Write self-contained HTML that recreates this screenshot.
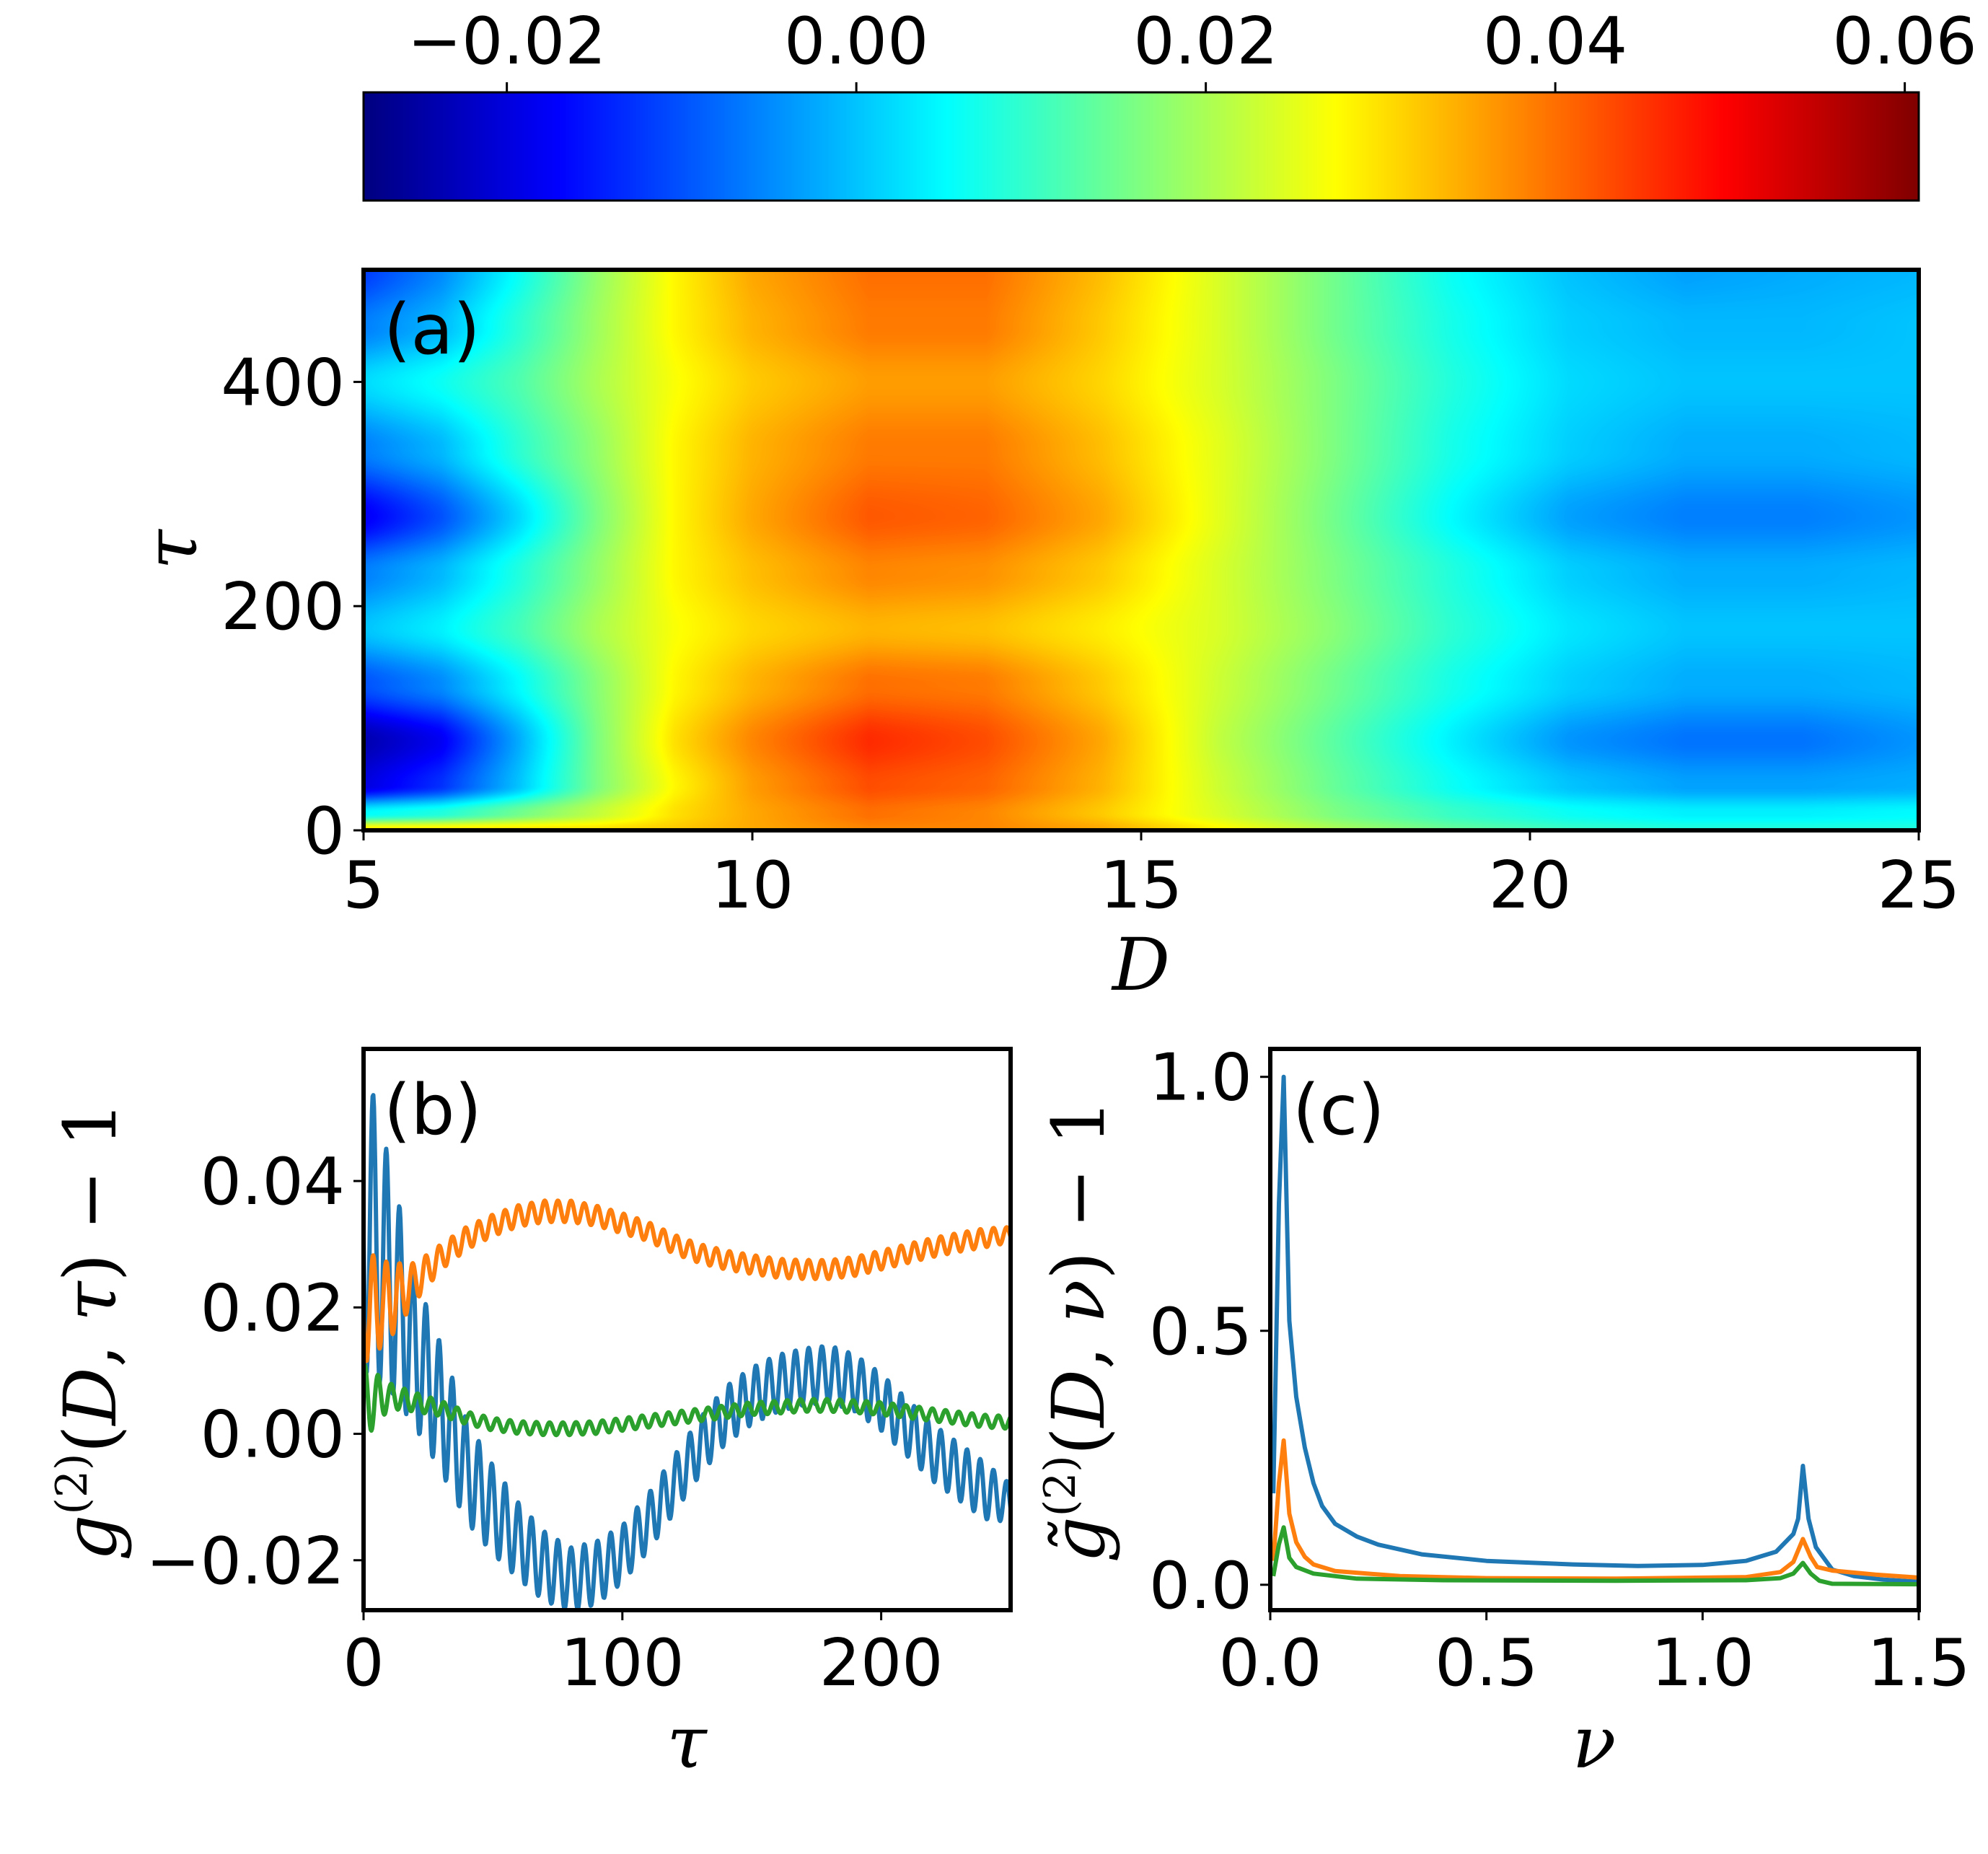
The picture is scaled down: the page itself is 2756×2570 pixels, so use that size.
<!DOCTYPE html>
<html><head><meta charset="utf-8">
<style>
html,body{margin:0;padding:0;background:#fff;}
#wrap{position:relative;width:2756px;height:2570px;overflow:hidden;}
canvas,svg{position:absolute;left:0;top:0;}
text{font-family:"DejaVu Sans","Liberation Sans",sans-serif;}
.tick{font-size:90px;fill:#000;}
.plabel{font-size:96px;fill:#000;}
.math{font-family:"DejaVu Serif","Liberation Serif",serif;font-style:italic;fill:#000;}
</style></head>
<body>
<div id="wrap">
<canvas id="hm" width="2756" height="2570"></canvas>
<svg id="svg" width="2756" height="2570" xmlns="http://www.w3.org/2000/svg">
<defs>
<clipPath id="clipB"><rect x="504" y="1454" width="897" height="778"/></clipPath>
<clipPath id="clipC"><rect x="1761" y="1454" width="899" height="778"/></clipPath>
</defs>
<g id="layer"></g>
</svg>
</div>
<script>
// ---------- data: heatmap (a) ----------
const hmD = [5,6,7,8,9,10,11.5,13,14.5,16,17.5,19,20.5,22,23.5,25];
const hmTau = [0,15,40,80,130,180,230,280,340,400,450,500];
const hmRow0   = [0.03,0.03,0.03,0.03,0.032,0.035,0.038,0.038,0.035,0.028,0.02,0.014,0.01,0.008,0.008,0.008];
const hmRow15  = [0.005,0.008,0.015,0.022,0.03,0.035,0.04,0.038,0.032,0.024,0.016,0.01,0.006,0.004,0.004,0.005];
const hmRow40  = [-0.02,-0.013,0.0,0.016,0.028,0.036,0.043,0.041,0.034,0.023,0.014,0.006,0.0,-0.003,-0.003,-0.002];
const hmRow80  = [-0.024,-0.018,-0.002,0.016,0.03,0.038,0.046,0.043,0.035,0.022,0.013,0.004,-0.004,-0.007,-0.007,-0.004];
const hmRow130 = [-0.01,-0.005,0.005,0.017,0.028,0.034,0.04,0.039,0.032,0.023,0.015,0.007,0.001,-0.002,-0.002,-0.001];
const hmRow180 = [0.0,0.004,0.011,0.02,0.027,0.031,0.034,0.033,0.029,0.024,0.017,0.009,0.003,0.0,0.0,0.0];
const hmRow230 = [-0.006,-0.001,0.008,0.018,0.028,0.033,0.038,0.037,0.032,0.024,0.016,0.008,0.001,-0.002,-0.002,-0.001];
const hmRow280 = [-0.018,-0.01,0.002,0.016,0.028,0.035,0.042,0.041,0.035,0.025,0.015,0.005,-0.003,-0.006,-0.006,-0.004];
const hmRow340 = [-0.006,-0.001,0.009,0.018,0.028,0.034,0.039,0.039,0.033,0.025,0.016,0.007,0.001,-0.002,-0.002,-0.001];
const hmRow400 = [0.002,0.006,0.012,0.02,0.027,0.032,0.036,0.036,0.031,0.024,0.016,0.008,0.002,0.0,0.0,0.0];
const hmRow450 = [-0.006,-0.001,0.009,0.019,0.028,0.034,0.039,0.039,0.032,0.024,0.015,0.007,0.001,-0.001,-0.001,0.0];
const hmRow500 = [-0.012,-0.005,0.006,0.018,0.028,0.035,0.04,0.04,0.033,0.024,0.015,0.006,0.0,-0.003,-0.002,-0.001];
const hmRows = [hmRow0,hmRow15,hmRow40,hmRow80,hmRow130,hmRow180,hmRow230,hmRow280,hmRow340,hmRow400,hmRow450,hmRow500];
const cbTicks = [-0.02,0.0,0.02,0.04,0.06];
const cbLabels = ["\u22120.02","0.00","0.02","0.04","0.06"];
const aXTicks = [5,10,15,20,25];
const aYTicks = [0,200,400];

// ---------- data: panel (b) envelopes ----------
const bTau = [0,10,20,30,40,50,60,70,80,90,100,110,120,130,140,150,160,170,180,190,200,210,220,230,240,250];
const blueMean = [0.035,0.025,0.013,0.004,-0.006,-0.012,-0.017,-0.021,-0.023,-0.022,-0.019,-0.014,-0.008,-0.002,0.003,0.006,0.008,0.009,0.0095,0.008,0.005,0.001,-0.003,-0.006,-0.009,-0.011];
const blueAmp  = [0.025,0.018,0.012,0.010,0.008,0.007,0.006,0.0055,0.005,0.005,0.0045,0.0045,0.0045,0.0045,0.0045,0.0045,0.0045,0.0045,0.0045,0.0045,0.0045,0.0045,0.0045,0.0045,0.0045,0.003];
const orangeMean = [0.020,0.021,0.024,0.028,0.031,0.033,0.0345,0.0352,0.0352,0.0345,0.0333,0.032,0.030,0.0285,0.0275,0.0268,0.0262,0.026,0.026,0.0265,0.0275,0.0285,0.0295,0.0303,0.031,0.0315];
const orangeAmp  = [0.009,0.006,0.003,0.002,0.0018,0.0017,0.0017,0.0017,0.0017,0.0016,0.0016,0.0015,0.0015,0.0015,0.0015,0.0015,0.0015,0.0015,0.0015,0.0015,0.0015,0.0015,0.0015,0.0015,0.0015,0.0012];
const greenMean = [0.005,0.006,0.005,0.004,0.0025,0.0015,0.001,0.0008,0.0008,0.001,0.0015,0.002,0.0025,0.003,0.0035,0.004,0.0042,0.0045,0.0045,0.0043,0.004,0.0035,0.003,0.0025,0.002,0.0018];
const greenAmp  = [0.006,0.002,0.0015,0.0012,0.001,0.001,0.001,0.001,0.001,0.001,0.001,0.001,0.001,0.001,0.001,0.001,0.001,0.001,0.001,0.001,0.001,0.001,0.001,0.001,0.001,0.001];
const oscPeriod = 5.1;
const bXTicks = [0,100,200];
const bYTicks = [-0.02,0.0,0.02,0.04];
const bYLabels = ["\u22120.02","0.00","0.02","0.04"];

// ---------- data: panel (c) ----------
const cNuBlue = [0.007,0.02,0.031,0.044,0.06,0.08,0.1,0.12,0.15,0.2,0.25,0.35,0.5,0.7,0.85,1.0,1.1,1.17,1.21,1.221,1.232,1.245,1.262,1.3,1.35,1.42,1.5];
const cBlue   = [0.18,0.75,1.0,0.52,0.37,0.27,0.2,0.155,0.12,0.095,0.079,0.06,0.047,0.04,0.037,0.039,0.047,0.065,0.1,0.13,0.234,0.13,0.074,0.03,0.017,0.01,0.006];
const cNuOrange = [0.007,0.02,0.031,0.044,0.06,0.08,0.1,0.15,0.3,0.5,0.8,1.1,1.18,1.21,1.232,1.25,1.265,1.3,1.4,1.5];
const cOrange   = [0.047,0.2,0.284,0.14,0.084,0.055,0.04,0.027,0.017,0.013,0.012,0.015,0.025,0.045,0.09,0.055,0.035,0.028,0.02,0.014];
const cNuGreen = [0.007,0.02,0.031,0.044,0.06,0.1,0.2,0.4,0.8,1.1,1.18,1.21,1.232,1.25,1.27,1.3,1.5];
const cGreen   = [0.017,0.08,0.113,0.053,0.035,0.022,0.012,0.009,0.008,0.009,0.013,0.022,0.043,0.022,0.008,0.002,0.001];
const cXTicks = [0.0,0.5,1.0,1.5];
const cXLabels = ["0.0","0.5","1.0","1.5"];
const cYTicks = [0.0,0.5,1.0];
const cYLabels = ["0.0","0.5","1.0"];

// ---------- layout ----------
const A = {x0:504,x1:2660,y0:374,y1:1151,dmin:5,dmax:25,tmin:0,tmax:500};
const CB = {x0:504,x1:2660,y0:128,y1:278,vmin:-0.0282,vmax:0.0608};
const B = {x0:504,x1:1401,y0:1454,y1:2232,xmin:0,xmax:250,ymin:-0.0279,ymax:0.0609};
const C = {x0:1761,x1:2660,y0:1454,y1:2232,xmin:0,xmax:1.5,ymin:-0.05,ymax:1.055};
const ax = (P,v)=>P.x0+(v-P.xmin)/(P.xmax-P.xmin)*(P.x1-P.x0);
const ay = (P,v)=>P.y1-(v-P.ymin)/(P.ymax-P.ymin)*(P.y1-P.y0);
const aD = d=>A.x0+(d-A.dmin)/(A.dmax-A.dmin)*(A.x1-A.x0);
const aT = t=>A.y1-(t-A.tmin)/(A.tmax-A.tmin)*(A.y1-A.y0);
const cbX = v=>CB.x0+(v-CB.vmin)/(CB.vmax-CB.vmin)*(CB.x1-CB.x0);

function jet(t){
  t=Math.max(0,Math.min(1,t));
  const cl=x=>Math.max(0,Math.min(1,x));
  const r=cl(Math.min(4*t-1.5,-4*t+4.5));
  const g=cl(Math.min(4*t-0.5,-4*t+3.5));
  const b=cl(Math.min(4*t+0.5,-4*t+2.5));
  return [Math.round(r*255),Math.round(g*255),Math.round(b*255)];
}
function findIdx(arr,v){let i=0;while(i<arr.length-2&&v>arr[i+1])i++;return i;}
function interp(xs,ys,v){const i=findIdx(xs,v);const f=Math.max(0,Math.min(1,(v-xs[i])/(xs[i+1]-xs[i])));return ys[i]+(ys[i+1]-ys[i])*f;}

// ---------- draw heatmap & colorbar on canvas ----------
const cv=document.getElementById('hm');const ctx=cv.getContext('2d');
(function(){
  const w=A.x1-A.x0,h=A.y1-A.y0;const img=ctx.createImageData(w,h);
  const sm=f=>f*f*(3-2*f);
  for(let py=0;py<h;py++){
    const t=A.tmax-(py+0.5)/h*(A.tmax-A.tmin);
    const ri=findIdx(hmTau,t);const rf=sm(Math.max(0,Math.min(1,(t-hmTau[ri])/(hmTau[ri+1]-hmTau[ri]))));
    const r0=hmRows[ri],r1=hmRows[ri+1];
    for(let px=0;px<w;px++){
      const d=A.dmin+(px+0.5)/w*(A.dmax-A.dmin);
      const ci=findIdx(hmD,d);const cf=Math.max(0,Math.min(1,(d-hmD[ci])/(hmD[ci+1]-hmD[ci])));
      const a=r0[ci]+(r0[ci+1]-r0[ci])*cf,b=r1[ci]+(r1[ci+1]-r1[ci])*cf;
      const v=a+(b-a)*rf;
      const c=jet((v-CB.vmin)/(CB.vmax-CB.vmin));
      const k=(py*w+px)*4;img.data[k]=c[0];img.data[k+1]=c[1];img.data[k+2]=c[2];img.data[k+3]=255;
    }
  }
  ctx.putImageData(img,A.x0,A.y0);
  for(let px=CB.x0;px<CB.x1;px++){
    const c=jet((px-CB.x0+0.5)/(CB.x1-CB.x0));
    ctx.fillStyle=`rgb(${c[0]},${c[1]},${c[2]})`;ctx.fillRect(px,CB.y0,1,CB.y1-CB.y0);
  }
})();

// ---------- SVG helpers ----------
const NS='http://www.w3.org/2000/svg';const layer=document.getElementById('layer');
function mk(tag,attrs,parent){const e=document.createElementNS(NS,tag);for(const k in attrs)e.setAttribute(k,attrs[k]);(parent||layer).appendChild(e);return e;}
function txt(s,attrs,parent){const e=mk('text',attrs,parent);e.textContent=s;return e;}

// colorbar frame & ticks
let e=mk('rect',{x:CB.x0,y:CB.y0,width:CB.x1-CB.x0,height:CB.y1-CB.y0,fill:'none',stroke:'#000','stroke-width':3});


cbTicks.forEach((v,i)=>{
  const x=cbX(v);
  let t=mk('line',{x1:x,x2:x,y1:CB.y0,y2:CB.y0-14,stroke:'#000','stroke-width':3});
  
  
  let l=txt(cbLabels[i],{x:x,y:88,'text-anchor':'middle',class:'tick'});
  
  
});

// panel a frame & ticks
e=mk('rect',{x:A.x0,y:A.y0,width:A.x1-A.x0,height:A.y1-A.y0,fill:'none',stroke:'#000','stroke-width':6});


aXTicks.forEach(v=>{const x=aD(v);
  let t=mk('line',{x1:x,x2:x,y1:A.y1,y2:A.y1+14,stroke:'#000','stroke-width':3});
  
  
  let l=txt(String(v),{x:x,y:1258,'text-anchor':'middle',class:'tick'});
  
  });
aYTicks.forEach(v=>{const y=aT(v);
  let t=mk('line',{x1:A.x0,x2:A.x0-14,y1:y,y2:y,stroke:'#000','stroke-width':3});
  
  
  let l=txt(String(v),{x:478,y:y+32,'text-anchor':'end',class:'tick'});
  
  });
e=txt('(a)',{x:532,y:490,class:'plabel'});


e=txt('D',{x:1582,y:1372,'text-anchor':'middle',class:'math','font-size':100});


e=txt('τ',{x:0,y:0,'text-anchor':'middle',class:'math','font-size':100,transform:'translate(272,762) rotate(-90)'});



// panel b
const gB=mk('g',{'clip-path':'url(#clipB)'});
function bSeries(mean,amp,phase,color,name){
  let d='';
  for(let t=0;t<=250;t+=0.25){
    const v=interp(bTau,mean,t)+interp(bTau,amp,t)*Math.cos(2*Math.PI*(t-phase)/oscPeriod);
    d+=(t===0?'M':'L')+ax(B,t).toFixed(1)+','+ay(B,v).toFixed(1);
  }
  const p=mk('path',{d:d,fill:'none',stroke:color,'stroke-width':6,'stroke-linejoin':'round'},gB);
  
  
}
bSeries(blueMean,blueAmp,3.7,'#1f77b4','line-blue-b');
bSeries(orangeMean,orangeAmp,3.7,'#ff7f0e','line-orange-b');
bSeries(greenMean,greenAmp,5.6,'#2ca02c','line-green-b');
e=mk('rect',{x:B.x0,y:B.y0,width:B.x1-B.x0,height:B.y1-B.y0,fill:'none',stroke:'#000','stroke-width':6});


bXTicks.forEach(v=>{const x=ax(B,v);
  let t=mk('line',{x1:x,x2:x,y1:B.y1,y2:B.y1+14,stroke:'#000','stroke-width':3});
  
  
  let l=txt(String(v),{x:x,y:2336,'text-anchor':'middle',class:'tick'});
  
  });
bYTicks.forEach((v,i)=>{const y=ay(B,v);
  let t=mk('line',{x1:B.x0,x2:B.x0-14,y1:y,y2:y,stroke:'#000','stroke-width':3});
  
  
  let l=txt(bYLabels[i],{x:478,y:y+32,'text-anchor':'end',class:'tick'});
  
  });
e=txt('(b)',{x:532,y:1572,class:'plabel'});


e=txt('τ',{x:952,y:2450,'text-anchor':'middle',class:'math','font-size':100});


e=mk('text',{x:0,y:0,'text-anchor':'middle',class:'math','font-size':100,transform:'translate(160,1845) rotate(-90)'});
e.innerHTML='g<tspan dy="-40" font-size="60" font-style="normal">(2)</tspan><tspan dy="40" font-style="normal">(</tspan>D<tspan font-style="normal">, </tspan>τ<tspan font-style="normal">) − 1</tspan>';



// panel c
const gC=mk('g',{'clip-path':'url(#clipC)'});
function cSeries(xs,ys,color,name){
  let d='';xs.forEach((x,i)=>{d+=(i?'L':'M')+ax(C,x).toFixed(1)+','+ay(C,ys[i]).toFixed(1);});
  const p=mk('path',{d:d,fill:'none',stroke:color,'stroke-width':6,'stroke-linejoin':'round'},gC);
  
  
}
cSeries(cNuBlue,cBlue,'#1f77b4','line-blue-c');
cSeries(cNuOrange,cOrange,'#ff7f0e','line-orange-c');
cSeries(cNuGreen,cGreen,'#2ca02c','line-green-c');
e=mk('rect',{x:C.x0,y:C.y0,width:C.x1-C.x0,height:C.y1-C.y0,fill:'none',stroke:'#000','stroke-width':6});


cXTicks.forEach((v,i)=>{const x=ax(C,v);
  let t=mk('line',{x1:x,x2:x,y1:C.y1,y2:C.y1+14,stroke:'#000','stroke-width':3});
  
  
  let l=txt(cXLabels[i],{x:x,y:2336,'text-anchor':'middle',class:'tick'});
  
  });
cYTicks.forEach((v,i)=>{const y=ay(C,v);
  let t=mk('line',{x1:C.x0,x2:C.x0-14,y1:y,y2:y,stroke:'#000','stroke-width':3});
  
  
  let l=txt(cYLabels[i],{x:1736,y:y+32,'text-anchor':'end',class:'tick'});
  
  });
e=txt('(c)',{x:1792,y:1572,class:'plabel'});


e=txt('ν',{x:2210,y:2450,'text-anchor':'middle',class:'math','font-size':100});


e=mk('text',{x:0,y:0,'text-anchor':'middle',class:'math','font-size':100,transform:'translate(1530,1845) rotate(-90)'});
e.innerHTML='g̃<tspan dy="-40" font-size="60" font-style="normal">(2)</tspan><tspan dy="40" font-style="normal">(</tspan>D<tspan font-style="normal">, </tspan>ν<tspan font-style="normal">) − 1</tspan>';


</script>
</body></html>
